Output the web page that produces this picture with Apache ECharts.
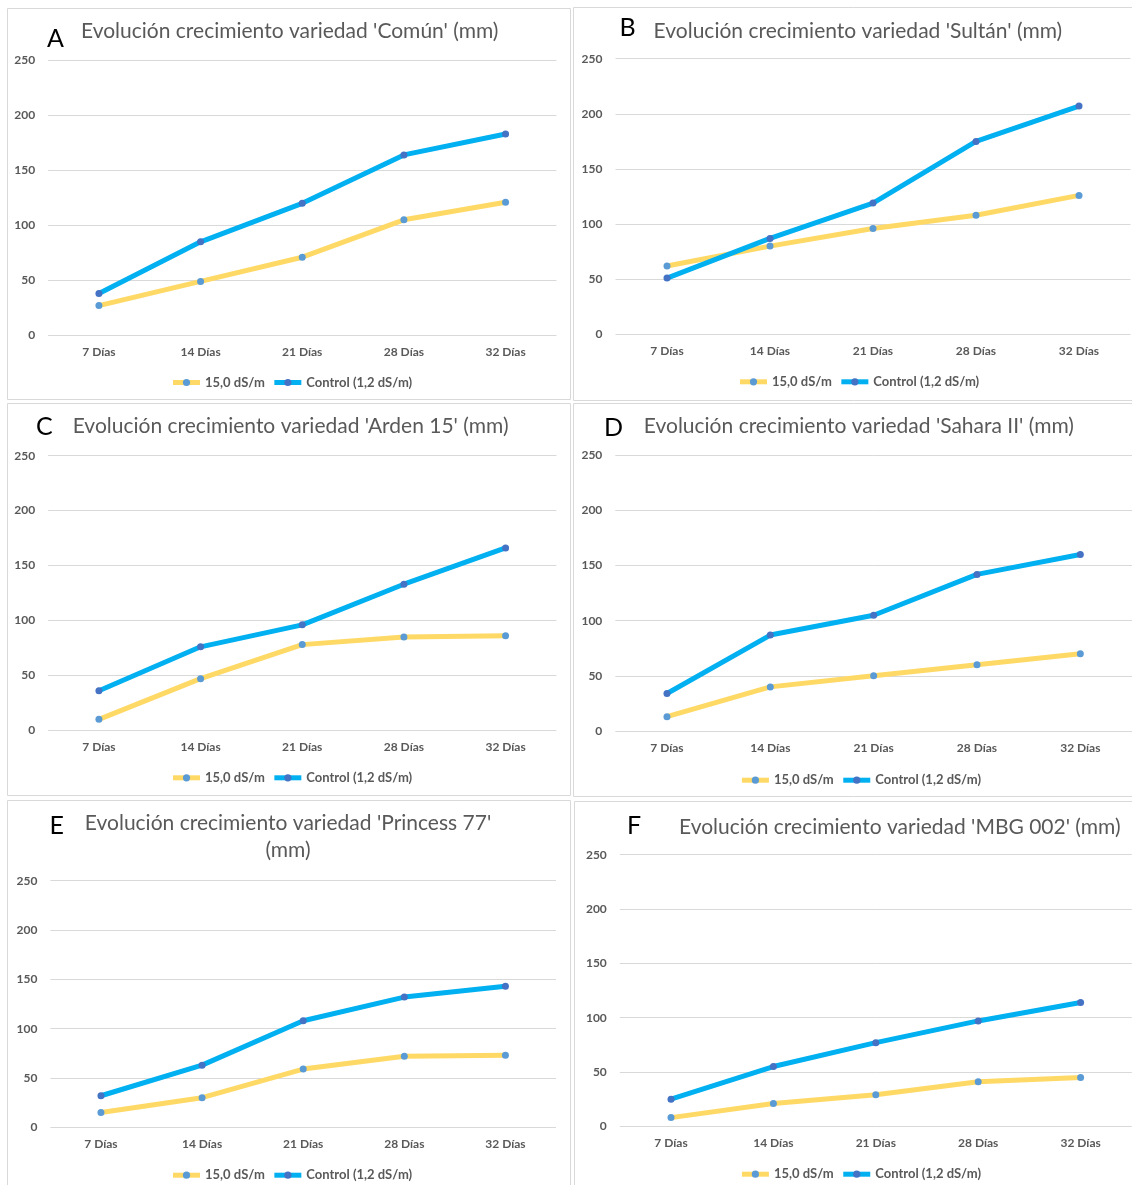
<!DOCTYPE html>
<html>
<head>
<meta charset="utf-8">
<script src="https://cdn.jsdelivr.net/npm/echarts@6/dist/echarts.min.js"></script>
<style>
  html, body { margin: 0; padding: 0; background: #ffffff; }
  #chart { width: 1132px; height: 1185px; }
</style>
</head>
<body>
<div id="chart"></div>
<script>
// Growth (mm) of six varieties under saline (15,0 dS/m) and control irrigation
const dias = ['7 Días', '14 Días', '21 Días', '28 Días', '32 Días'];
const yTicks = { min: 0, max: 250, interval: 50 };

const comunSal = [27, 49, 71, 105, 121];
const comunControl = [38, 85, 120, 164, 183];
const sultanSal = [62, 80, 96, 108, 126];
const sultanControl = [51, 87, 119, 175, 207];
const ardenSal = [10, 47, 78, 85, 86];
const ardenControl = [36, 76, 96, 133, 166];
const saharaSal = [13, 40, 50, 60, 70];
const saharaControl = [34, 87, 105, 142, 160];
const princessSal = [15, 30, 59, 72, 73];
const princessControl = [32, 63, 108, 132, 143];
const mbgSal = [8, 21, 29, 41, 45];
const mbgControl = [25, 55, 77, 97, 114];

const seriesNames = ['15,0 dS/m', 'Control (1,2 dS/m)'];
const letters = ['A', 'B', 'C', 'D', 'E', 'F'];
const titles = [
  "Evolución crecimiento variedad 'Común' (mm)",
  "Evolución crecimiento variedad 'Sultán' (mm)",
  "Evolución crecimiento variedad 'Arden 15' (mm)",
  "Evolución crecimiento variedad 'Sahara II' (mm)",
  "Evolución crecimiento variedad 'Princess 77'\n(mm)",
  "Evolución crecimiento variedad 'MBG 002' (mm)"
];
const panelData = [
  [comunSal, comunControl],
  [sultanSal, sultanControl],
  [ardenSal, ardenControl],
  [saharaSal, saharaControl],
  [princessSal, princessControl],
  [mbgSal, mbgControl]
];

// Page layout of each panel: frame, plot grid, title, letter, legend
const panels = [
  { frame: [7.5, 8.5, 563, 391], grid: [48.1, 60.3, 508.3, 275], title: [81, 31, 'left'], letter: [47, 39], legend: [165.5, 379] },
  { frame: [573.5, 7.5, 600, 393], grid: [615.5, 58.7, 515, 275.6], title: [653.6, 31.5, 'left'], letter: [619.5, 28], legend: [732.5, 378.3] },
  { frame: [7.5, 403.5, 563, 392], grid: [48.1, 455.7, 508.3, 274.6], title: [72.7, 426, 'left'], letter: [36, 427], legend: [165.5, 774.3] },
  { frame: [573.5, 403.5, 600, 393], grid: [615.3, 455.3, 517, 275.7], title: [643.8, 426.3, 'left'], letter: [604, 427.5], legend: [734.4, 776.7] },
  { frame: [7.5, 800.5, 563, 500], grid: [50.4, 880.7, 505.6, 246.6], title: [288, 836.7, 'center'], letter: [49.5, 826], legend: [165.5, 1171.7] },
  { frame: [574.5, 801.5, 600, 500], grid: [619.8, 854.7, 512, 271.6], title: [679, 827.3, 'left'], letter: [627, 826], legend: [734.4, 1170.7] }
];

const FONT = 'Lato, "Open Sans", "Liberation Sans", sans-serif';
const textGray = '#595959';
const gridGray = '#d9d9d9';
const lineColors = ['#ffd966', '#00b0f0'];
const markerColors = ['#5b9bd5', '#4472c4'];

const grid = [], xAxis = [], yAxis = [], series = [], legend = [], graphic = [];

panels.forEach((p, i) => {
  graphic.push({
    type: 'rect', silent: true, z: -1,
    shape: { x: p.frame[0], y: p.frame[1], width: p.frame[2], height: p.frame[3] },
    style: { fill: 'none', stroke: gridGray, lineWidth: 1 }
  });
  graphic.push({
    type: 'text', silent: true,
    style: {
      text: titles[i], x: p.title[0], y: p.title[1],
      textAlign: p.title[2], textVerticalAlign: 'middle',
      font: '21px ' + FONT, fill: textGray, lineHeight: 27
    }
  });
  graphic.push({
    type: 'text', silent: true,
    style: {
      text: letters[i], x: p.letter[0], y: p.letter[1],
      textAlign: 'left', textVerticalAlign: 'middle',
      font: '25px ' + FONT, fill: '#000000'
    }
  });

  grid.push({ left: p.grid[0], top: p.grid[1], width: p.grid[2], height: p.grid[3], containLabel: false });

  xAxis.push({
    type: 'category', gridIndex: i, data: dias, boundaryGap: true,
    axisLine: { show: false }, axisTick: { show: false },
    axisLabel: { color: textGray, fontFamily: FONT, fontWeight: 'bold', fontSize: 12, margin: 11 }
  });
  yAxis.push({
    type: 'value', gridIndex: i, min: yTicks.min, max: yTicks.max, interval: yTicks.interval,
    axisLine: { show: false }, axisTick: { show: false },
    splitLine: { lineStyle: { color: gridGray, width: 1 } },
    axisLabel: { color: textGray, fontFamily: FONT, fontWeight: 'bold', fontSize: 12, margin: 13 }
  });

  panelData[i].forEach((vals, s) => {
    series.push({
      name: seriesNames[s], type: 'line', xAxisIndex: i, yAxisIndex: i,
      data: vals, symbol: 'circle', symbolSize: 7,
      lineStyle: { color: lineColors[s], width: 5 },
      itemStyle: { color: markerColors[s] },
      emphasis: { disabled: true },
      z: 2 + s
    });
  });

  legend.push({
    data: seriesNames, left: p.legend[0], top: p.legend[1] - 8,
    itemWidth: 27, itemHeight: 9, itemGap: 7,
    lineStyle: { width: 5 },
    textStyle: { color: textGray, fontFamily: FONT, fontWeight: 'bold', fontSize: 13 },
    selectedMode: false
  });
});

const chart = echarts.init(document.getElementById('chart'), null, { renderer: 'canvas' });
chart.setOption({
  animation: false,
  color: lineColors,
  grid, xAxis, yAxis, series, legend, graphic
});
</script>
</body>
</html>
